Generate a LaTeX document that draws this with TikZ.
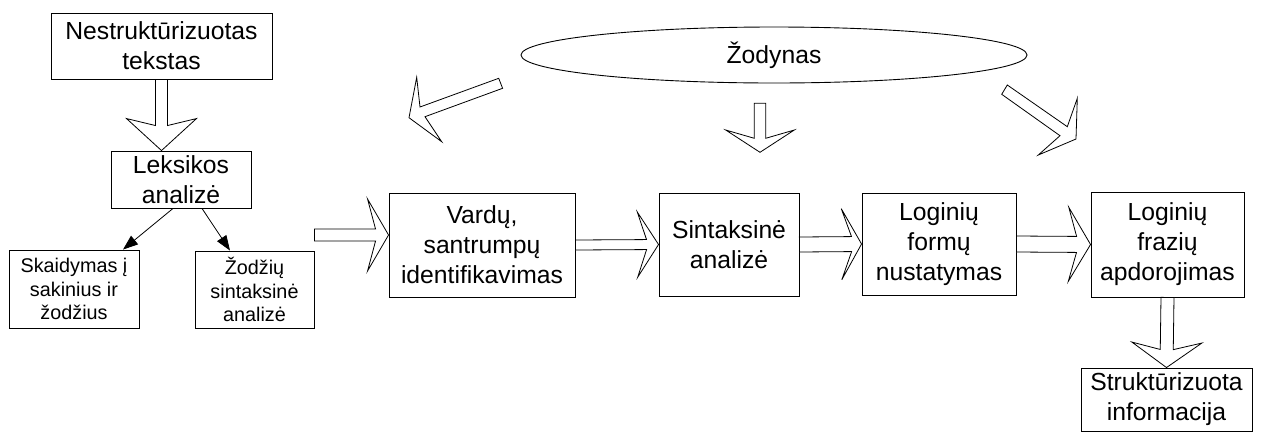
\documentclass[tikz,border=0pt]{standalone}
\usepackage{fontspec}
\setmainfont{Liberation Sans}
\usetikzlibrary{calc,arrows.meta,shapes.geometric}

\tikzset{
  box/.style={draw, line width=0.9pt, inner sep=0pt, align=center,
              font=\fontsize{24.7}{30}\selectfont},
  smallbox/.style={box, font=\fontsize{19.8}{23.3}\selectfont},
  dictnode/.style={draw, ellipse, line width=0.9pt, inner sep=0pt,
              font=\fontsize{24.7}{30}\selectfont},
  hollow/.style={draw, line width=0.8pt, line join=miter, fill=white},
  pointer/.style={draw, line width=0.8pt, -{Triangle[length=15pt,width=11pt]}},
}

% Hollow block arrow: #1 tail, #2 tip, #3 shaft half width,
% #4 head half width, #5 tip-to-barb distance, #6 tip-to-neck distance
\newcommand\blockarrow[6]{%
  \coordinate (ba-s) at #1;
  \coordinate (ba-t) at #2;
  \coordinate (ba-c) at ($(ba-t)!#5!(ba-s)$);
  \coordinate (ba-n) at ($(ba-t)!#6!(ba-s)$);
  \draw[hollow] ($(ba-s)!#3!90:(ba-t)$) -- ($(ba-n)!#3!90:(ba-t)$)
    -- ($(ba-c)!#4!90:(ba-t)$) -- (ba-t) -- ($(ba-c)!#4!-90:(ba-t)$)
    -- ($(ba-n)!#3!-90:(ba-t)$) -- ($(ba-s)!#3!-90:(ba-t)$) -- cycle;
}

\begin{document}
\begin{tikzpicture}[x=1pt,y=-1pt]
\useasboundingbox (0,0) rectangle (1262,432);

% lexical stage
\node[box, minimum width=221pt, minimum height=66pt] (nestr) at (161.5,46) {Nestruktūrizuotas\\tekstas};
\node[box, minimum width=140pt, minimum height=57pt] (leks) at (181,179.5) {Leksikos\\analizė};
\node[smallbox, minimum width=130pt, minimum height=78pt] (skaid) at (74,289) {Skaidymas į\\sakinius ir\\žodžius};
\node[smallbox, minimum width=119pt, minimum height=77pt] (zodz) at (254.5,289.5) {Žodžių\\sintaksinė\\analizė};

% main pipeline
\node[box, minimum width=186pt, minimum height=104pt] (vardu) at (482,245) {Vardų,\\santrumpų\\identifikavimas};
\node[box, minimum width=140pt, minimum height=103pt] (sint) at (729,244.5) {Sintaksinė\\analizė};
\node[box, minimum width=154pt, minimum height=102pt] (formu) at (939,244) {Loginių\\formų\\nustatymas};
\node[box, minimum width=153pt, minimum height=105pt] (fraz) at (1167.5,244.5) {Loginių\\frazių\\apdorojimas};
\node[box, minimum width=171pt, minimum height=63pt] (struk) at (1166.5,399.5) {Struktūrizuota\\informacija};

% dictionary
\node[dictnode, minimum width=506pt, minimum height=56pt] (dict) at (774,55) {Žodynas};

% block arrows between stages
\blockarrow{(nestr.south)}{(nestr.south |- leks.north)}{6pt}{35pt}{32pt}{25pt}
\coordinate (lv-tip) at ($(vardu.west)+(0,-10)$);
\coordinate (lv-tail) at (zodz.east |- lv-tip);
\blockarrow{(lv-tail)}{(lv-tip)}{6pt}{36pt}{21pt}{13pt}
\blockarrow{(vardu.east)}{(sint.west)}{5pt}{32.5pt}{21pt}{12pt}
\blockarrow{(sint.east)}{(formu.west)}{7.5pt}{35.5pt}{20pt}{10pt}
\blockarrow{(formu.east)}{(fraz.west)}{8pt}{37pt}{22pt}{14pt}
\blockarrow{(fraz.south)}{(struk.north)}{6.5pt}{35pt}{25pt}{18pt}

% arrows from the dictionary
\coordinate (dc-tail) at (760,103.3);
\coordinate (dc-tip) at (760,152.3);
\blockarrow{(dc-tail)}{(dc-tip)}{5.7pt}{34.3pt}{22.3pt}{14pt}
\draw[hollow] (498.7,78.3) -- (420,107) -- (416.7,77.3) -- (409,117.7)
  -- (441.7,141.7) -- (425,116.7) -- (502.6,88.3) -- cycle;
\draw[hollow] (1007.3,85) -- (1067.3,126.7) -- (1077.3,98.3) -- (1076,139)
  -- (1038.3,155) -- (1060,135.7) -- (1001.7,94.3) -- cycle;

% lexical sub-steps
\draw[pointer] ($(leks.south)+(-8,0)$) -- ($(skaid.north)+(49,0)$);
\draw[pointer] ($(leks.south)+(21,0)$) -- ($(zodz.north)+(-24.5,0)$);
\end{tikzpicture}
\end{document}
